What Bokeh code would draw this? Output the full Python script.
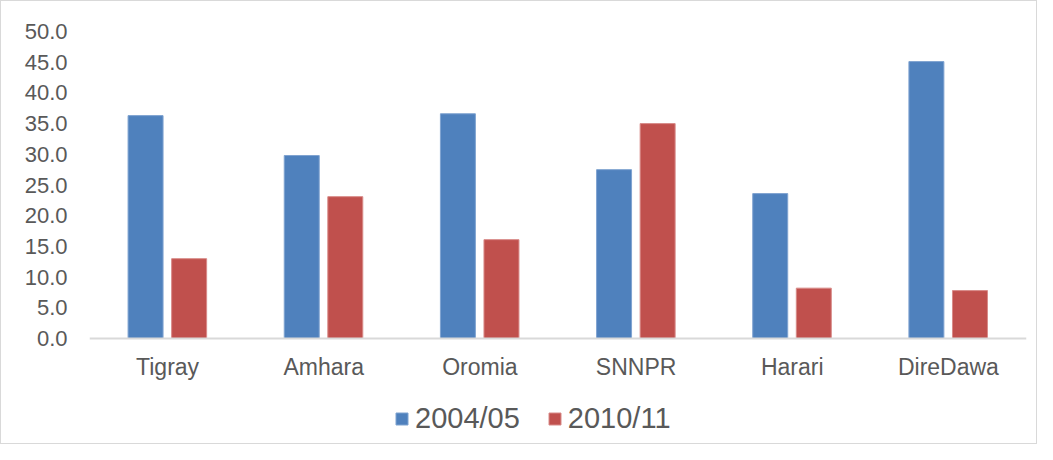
from bokeh.plotting import figure
from bokeh.models import ColumnDataSource, FactorRange, Range1d, Legend, LegendItem, FixedTicker, CustomJSTickFormatter, Span
from bokeh.core.properties import value
from bokeh.transform import dodge
from bokeh.embed import file_html
from bokeh.resources import INLINE

regions = ["Tigray", "Amhara", "Oromia", "SNNPR", "Harari", "DireDawa"]
series_names = ["2004/05", "2010/11"]
values_2004 = [36.3, 29.8, 36.6, 27.5, 23.6, 45.1]
values_2010 = [13.0, 23.1, 16.1, 35.0, 8.2, 7.8]
y_ticks = [0, 5, 10, 15, 20, 25, 30, 35, 40, 45, 50]

source = ColumnDataSource(data=dict(region=regions, v2004=values_2004, v2010=values_2010,
                                    base=[0] * len(regions)))

FONT = "Liberation Sans"
TEXT = "#595959"

W, H = 1037, 444
TOP, ZERO = 30, 337          # pixel rows of 50.0 and 0.0
px_per_unit = (ZERO - TOP) / 50.0
y_min = -(H - ZERO) / px_per_unit

p = figure(x_range=FactorRange(*regions, range_padding=0.0), y_range=Range1d(y_min, 50),
           width=W, height=H, output_backend="svg", toolbar_location=None,
           min_border_left=88, min_border_right=12, min_border_top=TOP, min_border_bottom=0)

b1 = p.vbar(x=dodge("region", -0.141, range=p.x_range), top="v2004", width=0.224, source=source,
            fill_color="#4F81BD", line_color="#7FA3D0", line_width=1)
b2 = p.vbar(x=dodge("region", 0.138, range=p.x_range), top="v2010", width=0.224, source=source,
            fill_color="#C0504D", line_color="#D88A88", line_width=1)

# category axis baseline and labels
p.add_layout(Span(location=0, dimension="width", line_color="#d9d9d9", line_width=2))
p.text(x="region", y="base", text="region", source=source, y_offset=28,
       text_align="center", text_baseline="middle",
       text_font=value(FONT), text_font_size="23px", text_color=TEXT)

p.xaxis.visible = False
p.xgrid.visible = False
p.ygrid.visible = False
p.outline_line_color = None
p.background_fill_color = "white"
p.border_fill_color = "white"
p.styles = {"border": "1px solid #d9d9d9"}

p.yaxis.ticker = FixedTicker(ticks=y_ticks)
p.yaxis.formatter = CustomJSTickFormatter(code="return tick.toFixed(1);")
p.yaxis.axis_line_color = None
p.yaxis.major_tick_line_color = None
p.yaxis.minor_tick_line_color = None
p.yaxis.major_tick_out = 0
p.yaxis.major_tick_in = 0
p.yaxis.major_label_standoff = 22
p.yaxis.major_label_text_font = FONT
p.yaxis.major_label_text_font_size = "22px"
p.yaxis.major_label_text_color = TEXT

legend = Legend(items=[LegendItem(label=series_names[0], renderers=[b1]),
                       LegendItem(label=series_names[1], renderers=[b2])],
                orientation="horizontal", location=(305, 10),
                glyph_width=15, glyph_height=15, label_standoff=6, spacing=27,
                label_text_font=FONT, label_text_font_size="29px", label_text_color=TEXT,
                border_line_color=None, background_fill_alpha=0, padding=0, margin=0)
p.add_layout(legend, "center")

open("out.html", "w").write(file_html(p, INLINE))
